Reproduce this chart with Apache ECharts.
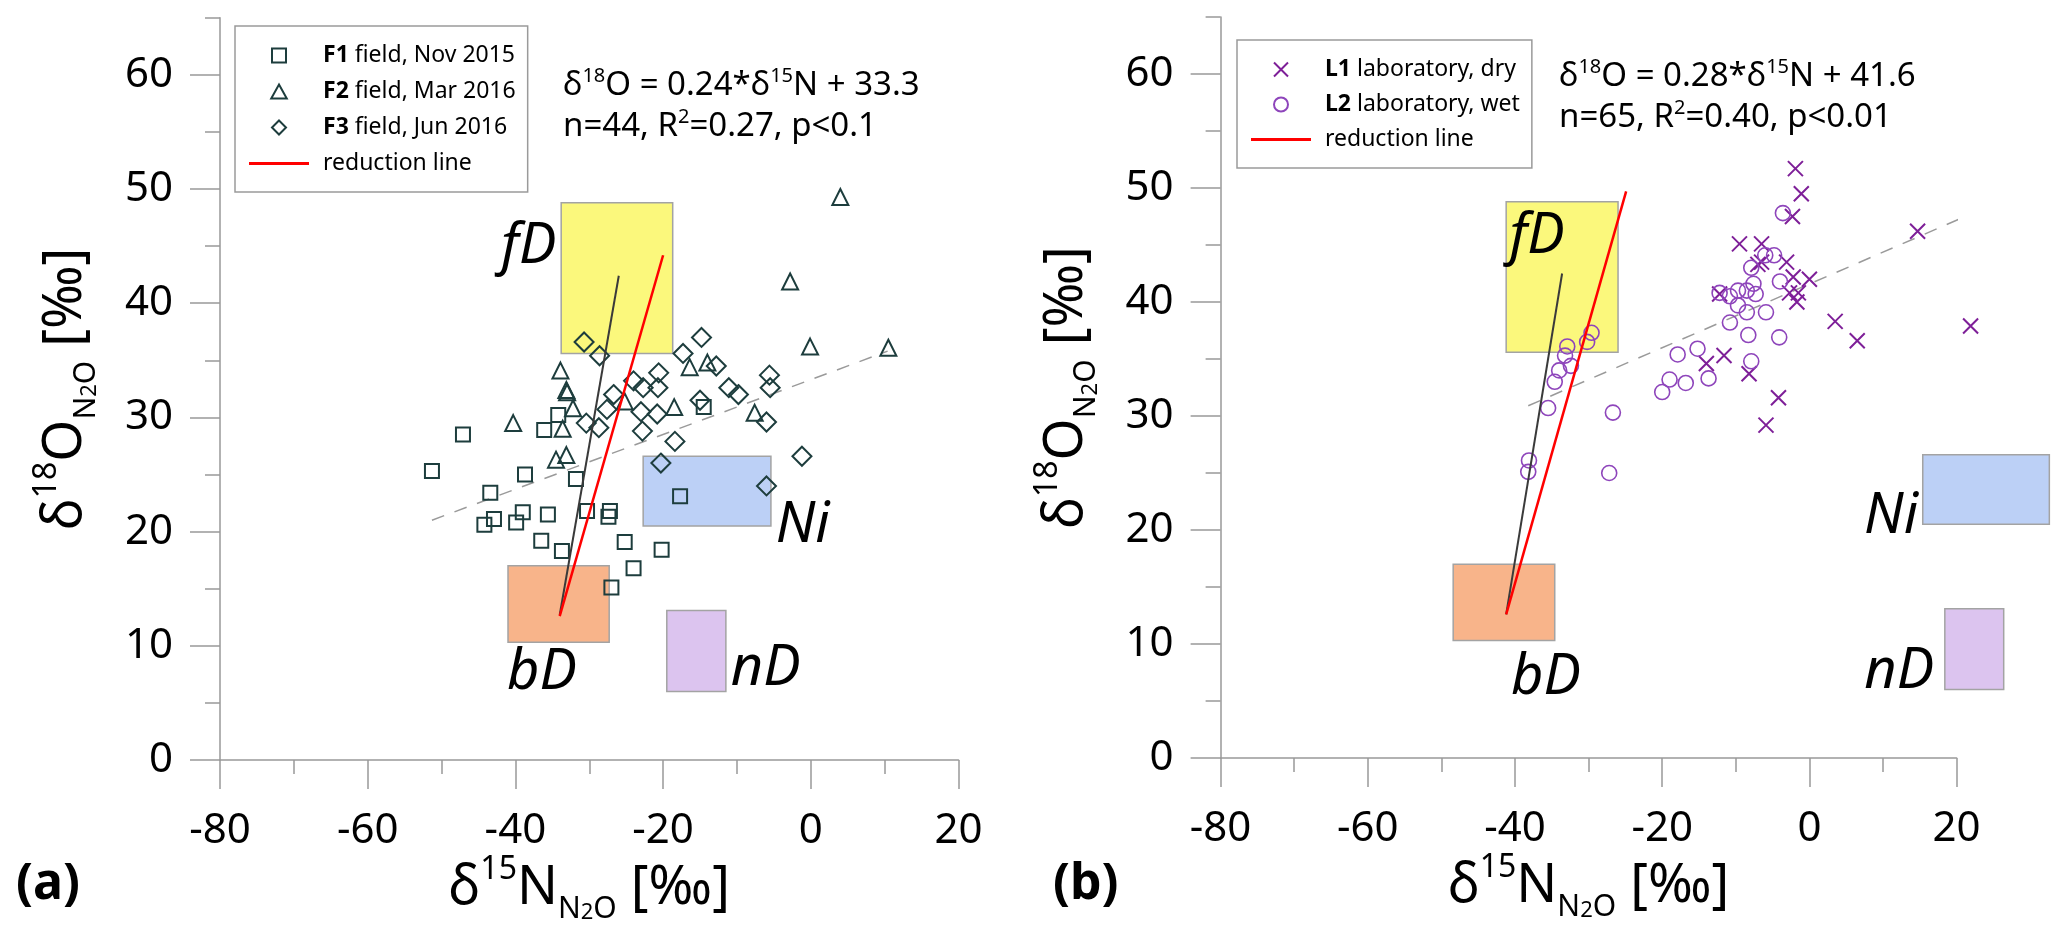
<!DOCTYPE html>
<html><head><meta charset="utf-8">
<script src="https://cdn.jsdelivr.net/npm/echarts@6/dist/echarts.min.js"></script>
<style>html,body{margin:0;padding:0;background:#fff}#c{width:2067px;height:949px}</style>
</head><body><div id="c"></div>
<script>
// ---------- axis ranges / ticks ----------
const xMin = -80, xMax = 20, xStep = 20;
const yMin = 0, yMax = 65, yLabelMax = 60, yStep = 10, yMinorStep = 5;

// ---------- panel (a) field data [δ15N, δ18O] ----------
const f1Nov2015 = [[-47.1,28.5],[-51.3,25.3],[-43.4,23.4],[-38.7,25.0],[-44.2,20.6],[-42.9,21.1],[-39.9,20.8],[-39.0,21.7],[-35.6,21.5],[-36.5,19.2],[-33.7,18.3],[-36.1,28.9],[-34.2,30.2],[-31.8,24.6],[-30.3,21.8],[-27.2,21.8],[-27.4,21.3],[-25.2,19.1],[-24.0,16.8],[-27.0,15.1],[-20.2,18.4],[-17.7,23.1],[-14.5,30.9]];
const f2Mar2016 = [[-40.3,29.5],[-33.9,34.1],[-33.1,32.4],[-33.0,32.2],[-32.2,30.8],[-33.6,29.0],[-33.1,26.7],[-34.5,26.3],[-25.2,31.4],[-18.5,30.9],[-16.4,34.4],[-14.0,34.8],[-7.6,30.4],[4.0,49.3],[-2.8,41.9],[-0.1,36.2],[10.5,36.1]];
const f3Jun2016 = [[-30.7,36.6],[-28.6,35.4],[-26.7,32.0],[-27.6,30.7],[-30.4,29.5],[-28.7,29.1],[-24.0,33.2],[-22.7,32.6],[-20.6,33.9],[-20.7,32.6],[-23.0,30.5],[-20.8,30.3],[-22.8,28.8],[-18.4,27.9],[-20.3,26.0],[-17.3,35.6],[-14.8,37.0],[-15.0,31.5],[-12.8,34.5],[-11.1,32.6],[-9.8,32.0],[-5.6,33.7],[-5.5,32.6],[-6.0,29.6],[-1.2,26.6],[-6.0,24.0]];

// ---------- panel (b) laboratory data ----------
const l1Dry = [[-9.5,45.1],[-12.2,40.7],[-14.0,34.6],[-11.6,35.3],[-8.2,33.7],[-1.9,51.7],[-1.1,49.5],[-2.3,47.5],[14.7,46.2],[-6.5,45.1],[-7.0,43.3],[-6.5,43.5],[-3.1,43.5],[-2.2,42.2],[0.0,42.0],[-2.7,40.8],[-1.5,40.8],[-1.7,40.0],[3.5,38.3],[6.5,36.6],[21.9,37.9],[-4.2,31.6],[-5.9,29.2]];
const l2Wet = [[-29.6,37.3],[-30.2,36.5],[-32.9,36.1],[-33.2,35.3],[-32.4,34.4],[-34.0,34.0],[-34.6,33.0],[-35.5,30.7],[-38.1,26.1],[-38.2,25.1],[-26.7,30.3],[-27.2,25.0],[-17.9,35.4],[-15.2,35.9],[-19.0,33.2],[-20.0,32.1],[-16.8,32.9],[-13.7,33.3],[-10.8,38.2],[-8.3,37.1],[-7.9,34.8],[-12.2,40.8],[-10.8,40.5],[-9.7,39.7],[-9.7,41.0],[-8.5,41.0],[-8.5,39.1],[-7.9,43.0],[-7.6,41.6],[-7.3,40.7],[-3.6,47.8],[-6.0,44.1],[-4.8,44.1],[-4.0,41.8],[-5.9,39.1],[-4.1,36.9]];

// ---------- lines (endpoints) ----------
const reductionA = [[-34.0,12.6],[-20.0,44.2]];
const mixingA = [[-34.0,12.7],[-26.0,42.4]];
const fitA = [[-51.3,21.0],[10.4,35.8]];
const reductionB = [[-41.2,12.6],[-24.9,49.7]];
const mixingB = [[-41.2,12.6],[-33.6,42.5]];
const fitB = [[-38.2,30.9],[21.9,47.7]];

// ---------- source boxes: [label, x0, x1, y0, y1, labelX, labelY] ----------
const boxesA = [
  ['fD', -33.8, -18.7, 35.6, 48.8, -38.2, 44.9],
  ['bD', -41.0, -27.3, 10.3, 17.0, -36.4, 7.6],
  ['nD', -19.5, -11.5, 6.0, 13.1, -6.1, 8.0],
  ['Ni', -22.7, -5.4, 20.5, 26.6, -1.1, 20.5]
];
const boxesB = [
  ['fD', -41.2, -26.0, 35.6, 48.8, -37.0, 45.7],
  ['bD', -48.4, -34.6, 10.3, 17.0, -35.8, 7.0],
  ['nD', 18.4, 26.4, 6.0, 13.1, 12.2, 7.5],
  ['Ni', 15.4, 32.6, 20.5, 26.6, 11.1, 21.1]
];

// ---------- styles ----------
const F = '"Noto Sans", "DejaVu Sans", sans-serif';
const boxFill = {fD:'#fbf87c', bD:'#f8b48a', nD:'#dcc4ef', Ni:'#bcd0f6'};
const axisGray = '#999';
const fieldColor = '#1d3d3d';
const dryColor = '#7e1f98';
const wetColor = '#8e45bb';
const crossPath = 'path://M0,0L10,10M10,0L0,10';
const legendIcons = {
  'F1 field, Nov 2015': 'path://M0,0H10V10H0Z',
  'F2 field, Mar 2016': 'path://M5,0L10,9H0Z',
  'F3 field, Jun 2016': 'path://M5,0L10,5L5,10L0,5Z',
  'L1 laboratory, dry': crossPath,
  'L2 laboratory, wet': 'circle',
  'reduction line': 'path://M0,0H60V3H0Z'
};

const richName = {
  m: {fontSize: 54, lineHeight: 70, fontFamily: F, color: '#000'},
  sup: {fontSize: 32, lineHeight: 40, verticalAlign: 'top', fontFamily: F, color: '#000'},
  sub: {fontSize: 30, lineHeight: 28, verticalAlign: 'bottom', fontFamily: F, color: '#000'},
  sub2: {fontSize: 22, lineHeight: 10, verticalAlign: 'bottom', fontFamily: F, color: '#000'}
};
const xName = '{m|δ}{sup|15}{m|N}{sub|N}{sub2|2}{sub|O}{m| [‰]}';
const yName = '{m|δ}{sup|18}{m|O}{sub|N}{sub2|2}{sub|O}{m| [‰]}';

const gridsPx = [
  {left: 220, top: 17.7, width: 738.5, height: 742.3},
  {left: 1220.6, top: 17, width: 736, height: 741}
];

const grids = [];
gridsPx.forEach(g => grids.push(Object.assign({outerBoundsMode: 'none', containLabel: false}, g)));
// overlay grids (long ticks + labels, 0..60)
gridsPx.forEach(g => {
  const off = g.height * (yMax - yLabelMax) / (yMax - yMin);
  grids.push({left: g.left, top: g.top + off, width: g.width, height: g.height - off, outerBoundsMode: 'none', containLabel: false});
});

const line = {color: axisGray, width: 1.5};
const xAxes = [0, 1].map(i => ({
  type: 'value', gridIndex: i, min: xMin, max: xMax, interval: xStep, position: 'bottom',
  axisLine: {show: true, onZero: false, lineStyle: line},
  axisTick: {show: true, length: 29, lineStyle: line},
  minorTick: {show: true, splitNumber: 2, length: 14, lineStyle: line},
  splitLine: {show: false}, minorSplitLine: {show: false},
  axisLabel: {fontSize: 42, color: '#000', fontFamily: F, margin: 50},
  name: xName, nameLocation: 'middle', nameGap: 94, nameMoveOverlap: false,
  nameTextStyle: {rich: richName}
})).concat([2, 3].map(i => ({type: 'value', gridIndex: i, min: xMin, max: xMax, show: false,
  position: 'bottom', axisLine: {onZero: false}})));

const yAxes = [0, 1].map(i => ({
  type: 'value', gridIndex: i, min: yMin, max: yMax, interval: yMinorStep, position: 'left',
  axisLine: {show: true, onZero: false, lineStyle: line},
  axisTick: {show: true, length: 15, lineStyle: line},
  splitLine: {show: false},
  axisLabel: {show: false},
  name: yName, nameLocation: 'middle', nameGap: 119, nameRotate: 90, nameMoveOverlap: false,
  nameTextStyle: {rich: richName}
})).concat([2, 3].map(i => ({
  type: 'value', gridIndex: i, min: yMin, max: yLabelMax, interval: yStep, position: 'left',
  axisLine: {show: false, onZero: false},
  axisTick: {show: true, length: 30, lineStyle: line},
  splitLine: {show: false},
  axisLabel: {fontSize: 42, color: '#000', fontFamily: F, margin: 47}
})));

function boxSeries(boxes, ai) {
  return {
    type: 'custom', name: 'sources' + ai, xAxisIndex: ai, yAxisIndex: ai, z: 1, silent: true, clip: false,
    data: boxes.map(b => [b[1], b[3]]), encode: {x: 0, y: 1},
    renderItem: (params, api) => {
      const b = boxes[params.dataIndex];
      const p0 = api.coord([b[1], b[4]]);
      const p1 = api.coord([b[2], b[3]]);
      const lp = api.coord([b[5], b[6]]);
      return {type: 'group', children: [
        {type: 'rect', shape: {x: p0[0], y: p0[1], width: p1[0] - p0[0], height: p1[1] - p0[1]},
         style: {fill: boxFill[b[0]], stroke: '#a3a3a3', lineWidth: 1.5}},
        {type: 'text', x: lp[0], y: lp[1],
         style: {text: b[0], fontSize: 56, fontStyle: 'italic', fontFamily: F, fill: '#000',
                 align: 'center', verticalAlign: 'middle', textAlign: 'center', textVerticalAlign: 'middle'}}
      ]};
    }
  };
}
function lineSeries(name, data, ai, color, width, type, z) {
  return {type: 'line', name, data, xAxisIndex: ai, yAxisIndex: ai, symbol: 'none', showSymbol: false, silent: true, z,
          itemStyle: {color}, lineStyle: {color, width, type}, clip: false, animation: false};
}
function scatter(name, data, ai, symbol, size, color, bw) {
  return {type: 'scatter', name, data, xAxisIndex: ai, yAxisIndex: ai, symbol, symbolSize: size, z: 3,
          itemStyle: {color: 'transparent', borderColor: color, borderWidth: bw, opacity: 1}, clip: false};
}

const series = [
  boxSeries(boxesA, 0),
  boxSeries(boxesB, 1),
  lineSeries('fitA', fitA, 0, '#9a9a9a', 1.5, [13, 11], 2),
  lineSeries('fitB', fitB, 1, '#9a9a9a', 1.5, [13, 11], 2),
  scatter('F1 field, Nov 2015', f1Nov2015, 0, 'rect', 14, fieldColor, 2),
  scatter('F2 field, Mar 2016', f2Mar2016, 0, 'triangle', 16, fieldColor, 2),
  scatter('F3 field, Jun 2016', f3Jun2016, 0, 'diamond', 19, fieldColor, 2),
  scatter('L1 laboratory, dry', l1Dry, 1, crossPath, 15, dryColor, 2),
  scatter('L2 laboratory, wet', l2Wet, 1, 'circle', 15, wetColor, 1.6),
  lineSeries('mixingA', mixingA, 0, '#3a3a3a', 2, 'solid', 4),
  lineSeries('mixingB', mixingB, 1, '#3a3a3a', 2, 'solid', 4),
  lineSeries('reduction line', reductionA, 0, '#ff0000', 2.5, 'solid', 5),
  lineSeries('reduction line', reductionB, 1, '#ff0000', 2.5, 'solid', 5)
];

function legendFmt(name) {
  if (name === 'reduction line') return name;
  const i = name.indexOf(' ');
  return '{b|' + name.slice(0, i) + '}' + name.slice(i);
}
const legendBase = {
  orient: 'vertical', itemWidth: 60, itemHeight: 14, selectedMode: false, symbolKeepAspect: true,
  borderColor: '#9a9a9a', borderWidth: 1.5, backgroundColor: '#fff', borderRadius: 0,
  formatter: legendFmt,
  textStyle: {fontSize: 23, color: '#000', fontFamily: F, padding: [0, 0, 0, 9],
              rich: {b: {fontSize: 23, fontWeight: 'bold', fontFamily: F, color: '#000'}}}
};
const legendItems = names => names.map(n => ({name: n, icon: legendIcons[n]}));
const legends = [
  Object.assign({}, legendBase, {left: 235, top: 26, itemGap: 13, padding: [18, 12, 17, 14],
    data: legendItems(['F1 field, Nov 2015', 'F2 field, Mar 2016', 'F3 field, Jun 2016', 'reduction line'])}),
  Object.assign({}, legendBase, {left: 1237, top: 40, itemGap: 12, padding: [18, 12, 17, 14],
    data: legendItems(['L1 laboratory, dry', 'L2 laboratory, wet', 'reduction line'])})
];

const richEq = {
  t: {fontSize: 33, lineHeight: 40, fontFamily: F, color: '#000'},
  s: {fontSize: 20, lineHeight: 26, verticalAlign: 'top', fontFamily: F, color: '#000'}
};
function eqText(x, y, text) {
  return {type: 'text', left: x, top: y, style: {text, rich: richEq, fill: '#000', font: '33px ' + F}};
}
const graphics = [
  eqText(563, 66, '{t|δ}{s|18}{t|O = 0.24*δ}{s|15}{t|N + 33.3}'),
  eqText(563, 107, '{t|n=44, R}{s|2}{t|=0.27, p<0.1}'),
  eqText(1559, 57, '{t|δ}{s|18}{t|O = 0.28*δ}{s|15}{t|N + 41.6}'),
  eqText(1559, 98, '{t|n=65, R}{s|2}{t|=0.40, p<0.01}'),
  {type: 'text', left: 16, top: 860, style: {text: '(a)', font: 'bold 50px ' + F, fill: '#000'}},
  {type: 'text', left: 1053, top: 860, style: {text: '(b)', font: 'bold 50px ' + F, fill: '#000'}}
];

const chart = echarts.init(document.getElementById('c'), null, {renderer: 'canvas'});
chart.setOption({
  animation: false,
  backgroundColor: '#fff',
  grid: grids, xAxis: xAxes, yAxis: yAxes,
  legend: legends,
  graphic: graphics,
  series
});
</script></body></html>
